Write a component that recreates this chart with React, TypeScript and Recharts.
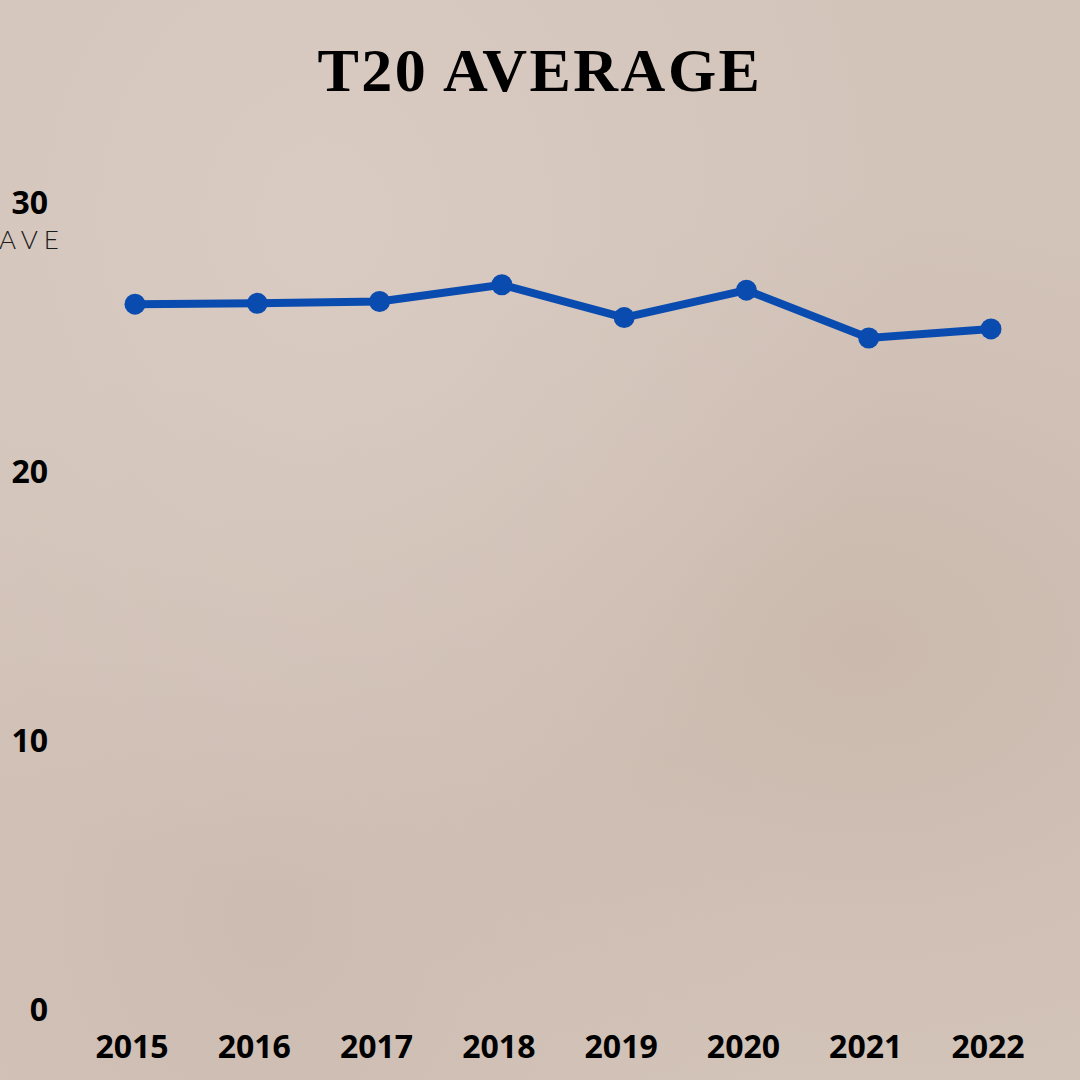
import React from "react";
import { LineChart, Line, XAxis, YAxis } from "recharts";

const years = ["2015", "2016", "2017", "2018", "2019", "2020", "2021", "2022"];
const averages = [26.24, 26.27, 26.34, 26.96, 25.74, 26.76, 24.98, 25.32];
const yTicks = [0, 10, 20, 30];

const data = years.map((year, i) => ({ year, avg: averages[i] }));

const tickFont = {
  fontFamily: "'Open Sans', sans-serif",
  fontWeight: 700,
  fontSize: 32,
  fill: "#000",
};

export default function App() {
  return (
    <div
      style={{
        position: "fixed",
        left: 0,
        top: 0,
        width: 1080,
        height: 1080,
        overflow: "hidden",
        background:
          "radial-gradient(ellipse at 30% 20%, #d9cbc2 0%, rgba(217,203,194,0) 55%), radial-gradient(ellipse at 80% 60%, #cbb9ad 0%, rgba(203,185,173,0) 50%), radial-gradient(ellipse at 25% 85%, #cdbcb1 0%, rgba(205,188,177,0) 45%), #d3c4ba",
      }}
    >
      <div
        style={{
          position: "absolute",
          left: 0,
          top: 34,
          width: 1080,
          textAlign: "center",
          fontFamily: "'Liberation Serif', 'DejaVu Serif', serif",
          fontWeight: 700,
          fontSize: 62,
          lineHeight: "72px",
          color: "#000",
          letterSpacing: 2.5,
        }}
      >
        T20 AVERAGE
      </div>
      <div
        style={{
          position: "absolute",
          left: -1,
          top: 224,
          fontFamily: "Lato, sans-serif",
          fontWeight: 300,
          fontSize: 26,
          lineHeight: "30px",
          letterSpacing: 6,
          color: "#1a1a1a",
        }}
      >
        AVE
      </div>
      <div style={{ position: "absolute", left: 0, top: 0 }}>
        <LineChart
          width={1080}
          height={1080}
          data={data}
          margin={{ top: 203, right: 89, bottom: 10, left: 0 }}
        >
          <XAxis
            dataKey="year"
            axisLine={false}
            tickLine={false}
            tickSize={0}
            tickMargin={25}
            height={60}
            padding={{ left: 75, right: 0 }}
            interval={0}
            tick={{ ...tickFont, dx: -3 }}
          />
          <YAxis
            domain={[0, 30]}
            ticks={yTicks}
            axisLine={false}
            tickLine={false}
            tickSize={0}
            tickMargin={12}
            width={60}
            tick={tickFont}
          />
          <Line
            type="linear"
            dataKey="avg"
            stroke="#0a4bb0"
            strokeWidth={8}
            dot={{ r: 10.5, fill: "#0a4bb0", stroke: "#0a4bb0", strokeWidth: 0 }}
            activeDot={false}
            isAnimationActive={false}
          />
        </LineChart>
      </div>
    </div>
  );
}
